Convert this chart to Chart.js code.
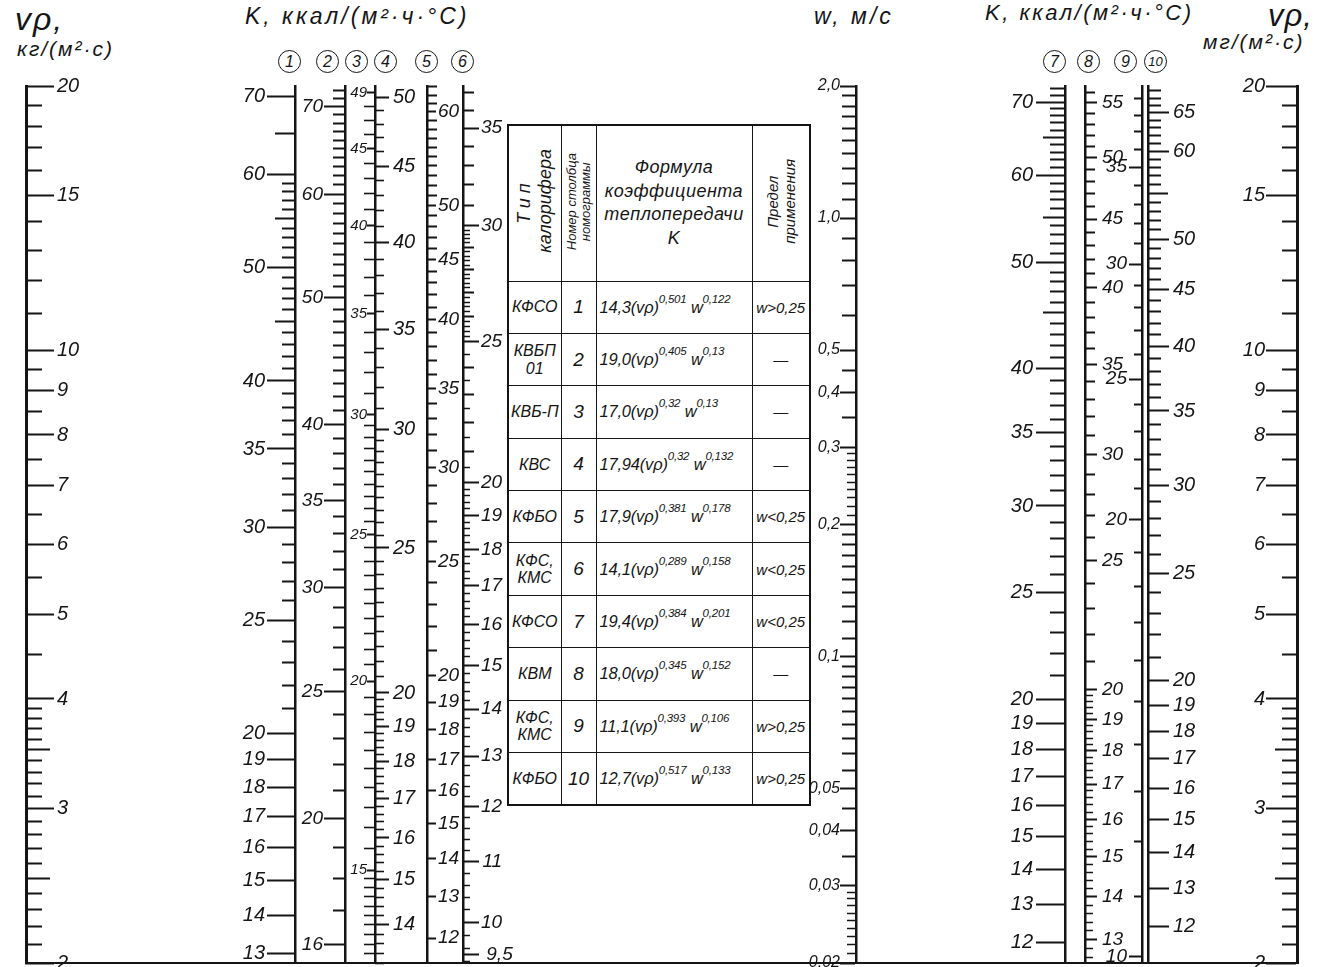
<!DOCTYPE html>
<html lang="ru">
<head>
<meta charset="utf-8">
<title>Номограмма коэффициента теплопередачи калориферов</title>
<script src="https://cdn.jsdelivr.net/npm/chart.js@4.4.1/dist/chart.umd.min.js"></script>
<style>
  html, body { margin: 0; padding: 0; background: #fff; }
  #sheet {
    position: relative; width: 1326px; height: 967px; overflow: hidden;
    font-family: 'Liberation Sans', Arial, sans-serif;
    font-style: italic; color: #151515;
  }
  #chartBox { position: absolute; left: 0; top: 0; width: 1326px; height: 967px; z-index: 2; pointer-events: none; }
  .hd { position: absolute; white-space: nowrap; line-height: 1; }
  .num {
    position: absolute; top: 50px; width: 21px; height: 21px; margin-left: -12px;
    border: 1.5px solid #151515; border-radius: 50%; text-align: center;
    line-height: 21px; font-size: 16px;
  }
  #tbl {
    position: absolute; left: 507px; top: 124px; width: 302px; height: 682px;
    border-collapse: collapse; table-layout: fixed; z-index: 1;
    border: 2px solid #151515;
  }
  #tbl th, #tbl td {
    border: 1.5px solid #151515; padding: 0; text-align: center; vertical-align: middle;
    font-weight: normal; font-style: italic;
  }
  #tbl thead tr { height: 156px; }
  #tbl tbody tr { height: 52px; }
  .rot { writing-mode: vertical-rl; transform: rotate(180deg); display: inline-block; line-height: 1.15; text-align: center; }
  .h1 { font-size: 18px; }
  .h2 { font-size: 13px; line-height: 1.05 !important; }
  .h4 { font-size: 15px; }
  .h3 { font-size: 18px; line-height: 1.3; letter-spacing: 0.5px; }
  .type { font-size: 16px; line-height: 1.1; }
  .no { font-size: 19px; }
  .frm { font-size: 16.5px; text-align: left !important; padding-left: 3px !important; white-space: nowrap; letter-spacing: -0.2px; }
  .frm sup { font-size: 11.5px; position: relative; top: -4px; vertical-align: top; line-height: 1; }
  .lim { font-size: 15px; white-space: nowrap; }
</style>
</head>
<body>
<div id="sheet">
  <div id="chartBox"><canvas id="nomo"></canvas></div>

  <div class="hd" style="left:15px;top:3px;font-size:32px;letter-spacing:2px">vρ,</div>
  <div class="hd" style="left:17px;top:38px;font-size:21px;letter-spacing:2px">кг/(м²·с)</div>
  <div class="hd" style="left:245px;top:5px;font-size:23px;letter-spacing:3px">K, ккал/(м²·ч·°С)</div>
  <div class="hd" style="left:814px;top:5px;font-size:23px;letter-spacing:3px">w, м/с</div>
  <div class="hd" style="left:985px;top:2px;font-size:22px;letter-spacing:2.5px">K, ккал/(м²·ч·°С)</div>
  <div class="hd" style="left:1268px;top:0px;font-size:31px;letter-spacing:1px">vρ,</div>
  <div class="hd" style="left:1203px;top:31px;font-size:21px;letter-spacing:2px">мг/(м²·с)</div>

  <div class="num" style="left:290px">1</div>
  <div class="num" style="left:328px">2</div>
  <div class="num" style="left:357px">3</div>
  <div class="num" style="left:386px">4</div>
  <div class="num" style="left:427px">5</div>
  <div class="num" style="left:463px">6</div>
  <div class="num" style="left:1055px">7</div>
  <div class="num" style="left:1089px">8</div>
  <div class="num" style="left:1126px">9</div>
  <div class="num" style="left:1156px;font-size:13px">10</div>

  <table id="tbl">
    <colgroup><col style="width:53px"><col style="width:35px"><col style="width:156px"><col style="width:58px"></colgroup>
    <thead>
      <tr>
        <th><span class="rot h1"><span style="letter-spacing:5px">Тип</span><br>калорифера</span></th>
        <th><span class="rot h2">Номер столбца<br>номограммы</span></th>
        <th class="h3">Формула<br>коэффициента<br>теплопередачи<br>K</th>
        <th><span class="rot h4">Предел<br>применения</span></th>
      </tr>
    </thead>
    <tbody id="rows"></tbody>
  </table>
</div>

<script>
const FONT = "'Liberation Sans', Arial, sans-serif";
const INK = '#151515';

// vp scales, kg and mg sides share the graduation
const VP_MAJOR = [20, 15, 10, 9, 8, 7, 6, 5, 4, 3, 2];
const VP_MID = [3.5, 2.5];
const VP_MINOR = [[15, 20, 1], [10, 15, 1], [4, 10, 0.5], [2, 4, 0.1]];

// K columns 1-6
const K1_MAJOR = [70, 60, 50, 40, 35, 30, 25, 20, 19, 18, 17, 16, 15, 14, 13];
const K1_MID = [65, 55, 45];
const K1_MINOR = [[20, 60, 1]];

const K2_MAJOR = [70, 60, 50, 40, 35, 30, 25, 20, 16];
const K2_MINOR = [[15, 72, 1]];

const K3_MAJOR = [49, 45, 40, 35, 30, 25, 20, 15, 13];
const K3_MINOR = [[30, 49, 1], [15, 30, 0.5], [13, 15, 0.2]];

const K4_MAJOR = [50, 45, 40, 35, 30, 25, 20, 19, 18, 17, 16, 15, 14];
const K4_MINOR = [[30, 50, 1], [20, 30, 0.5], [13.2, 20, 0.2]];

const K5_MAJOR = [60, 50, 45, 40, 35, 30, 25, 20, 19, 18, 17, 16, 15, 14, 13, 12];
const K5_MINOR = [[20, 63, 1]];

const K6_MAJOR = [35, 30, 25, 20, 19, 18, 17, 16, 15, 14, 13, 12, 11, 10, 9.5];
const K6_MID = [[20, 37, 1]];
const K6_MINOR = [[25, 30, 0.2], [20, 25, 0.5], [9.4, 20, 0.2]];

// air velocity w, m/s
const W_MAJOR = [2, 1, 0.5, 0.4, 0.3, 0.2, 0.1, 0.05, 0.04, 0.03, 0.02];
const W_LABELS = ['2,0', '1,0', '0,5', '0,4', '0,3', '0,2', '0,1', '0,05', '0,04', '0,03', '0,02'];
const W_MINOR = [[1, 2, 0.1], [0.5, 1, 0.1], [0.3, 0.5, 0.05], [0.1, 0.2, 0.01], [0.05, 0.1, 0.005], [0.03, 0.05, 0.005]];
const W_FINE = [[0.2, 0.3, 0.01], [0.02, 0.03, 0.001]];

// K columns 7-10
const K7_MAJOR = [70, 60, 50, 40, 35, 30, 25, 20, 19, 18, 17, 16, 15, 14, 13, 12];
const K7_MID = [65, 55, 45];
const K7_MINOR = [[20, 72, 1]];

const K8_MAJOR = [55, 50, 45, 40, 35, 30, 25, 20, 19, 18, 17, 16, 15, 14, 13];
const K8_MINOR = [[20, 56, 1]];
const K8_FINE = [[12.4, 20, 0.2]];

const K9_MAJOR = [35, 30, 25, 20, 10];
const K9_MINOR = [[10, 39, 1]];

const K10_MAJOR = [65, 60, 50, 45, 40, 35, 30, 25, 20, 19, 18, 17, 16, 15, 14, 13, 12];
const K10_MID = [55];
const K10_MINOR = [[20, 68, 1]];

// table
const HEATER_TYPES = ['КФСО', 'КВБП\n01', 'КВБ-П', 'КВС', 'КФБО', 'КФС,\nКМС', 'КФСО', 'КВМ', 'КФС,\nКМС', 'КФБО'];
const COLUMN_NO = [1, 2, 3, 4, 5, 6, 7, 8, 9, 10];
const COEF_A = ['14,3', '19,0', '17,0', '17,94', '17,9', '14,1', '19,4', '18,0', '11,1', '12,7'];
const EXP_VP = ['0,501', '0,405', '0,32', '0,32', '0,381', '0,289', '0,384', '0,345', '0,393', '0,517'];
const EXP_W = ['0,122', '0,13', '0,13', '0,132', '0,178', '0,158', '0,201', '0,152', '0,106', '0,133'];
const W_LIMIT = ['w>0,25', '—', '—', '—', 'w<0,25', 'w<0,25', 'w<0,25', '—', 'w>0,25', 'w>0,25'];

// where each graduated line sits on the sheet
const AXES = [
  { id: 'vpKg', x: 26, side: 'right', min: 2, max: 20, major: VP_MAJOR, len: 29, gap: 2, size: 20, line: 3,
    tiers: [{ vals: VP_MID, len: 24 }, { segs: VP_MINOR, len: 16 }] },
  { id: 'k1', x: 295, side: 'left', min: 12.75, max: 71.4, major: K1_MAJOR, len: 27, gap: 3, size: 20, line: 2.5,
    tiers: [{ vals: K1_MID, len: 20 }, { segs: K1_MINOR, len: 13 }] },
  { id: 'k2', x: 345, side: 'left', min: 15.5, max: 72.6, major: K2_MAJOR, len: 20, gap: 2, size: 19, line: 2.5,
    tiers: [{ segs: K2_MINOR, len: 12 }] },
  { id: 'k3', x: 375, side: 'left', min: 13.02, max: 49.5, major: K3_MAJOR, len: 7, gap: 1, size: 15, line: 2.5,
    tiers: [{ segs: K3_MINOR, len: 11, w: 1.6 }] },
  { id: 'k4', x: 375, side: 'right', min: 13.2, max: 50.9, major: K4_MAJOR, len: 14, gap: 4, size: 20, line: 0,
    tiers: [{ segs: K4_MINOR, len: 9, w: 1.6 }] },
  { id: 'k5', x: 427, side: 'right', min: 11.43, max: 63.1, major: K5_MAJOR, len: 10, gap: 1, size: 19, line: 2.5,
    tiers: [{ segs: K5_MINOR, len: 10 }] },
  { id: 'k6', x: 463, side: 'right', min: 9.38, max: 37.4, major: K6_MAJOR, len: 17, gap: 1, size: 19, line: 2.5,
    tiers: [{ segs: K6_MID, len: 11 }, { segs: K6_MINOR, len: 7, w: 1.5 }] },
  { id: 'w', x: 856, side: 'left', min: 0.02, max: 2, major: W_MAJOR, labels: W_LABELS, len: 15, gap: 1, size: 16, line: 2.5,
    tiers: [{ segs: W_MINOR, len: 14 }, { segs: W_FINE, len: 9, w: 1.5 }] },
  { id: 'k7', x: 1065, side: 'left', min: 11.5, max: 72.4, major: K7_MAJOR, len: 28, gap: 4, size: 20, line: 2.5,
    tiers: [{ vals: K7_MID, len: 22 }, { segs: K7_MINOR, len: 15 }] },
  { id: 'k8', x: 1085, side: 'right', min: 12.49, max: 56.6, major: K8_MAJOR, len: 13, gap: 4, size: 19, line: 2.5,
    tiers: [{ segs: K8_MINOR, len: 10 }, { segs: K8_FINE, len: 8, w: 1.5 }] },
  { id: 'k9', x: 1142, side: 'left', min: 9.9, max: 39.8, major: K9_MAJOR, len: 12, gap: 3, size: 19, line: 2.5,
    tiers: [{ segs: K9_MINOR, len: 8 }] },
  { id: 'k10', x: 1148, side: 'right', min: 11.13, max: 68.7, major: K10_MAJOR, len: 22, gap: 3, size: 20, line: 2.5,
    tiers: [{ vals: K10_MID, len: 20 }, { segs: K10_MINOR, len: 13 }] },
  { id: 'vpMg', x: 1297, side: 'left', min: 2, max: 20, major: VP_MAJOR, len: 30, gap: 2, size: 20, line: 3,
    tiers: [{ vals: VP_MID, len: 22 }, { segs: VP_MINOR, len: 15 }] }
];

const measure = document.createElement('canvas').getContext('2d');
const key = v => v.toFixed(6);

// expand [from, to, step] runs into tick values, skipping ones already used
function graduate(segments, taken) {
  const used = new Set(taken.map(key));
  const out = [];
  segments.forEach(([from, to, step]) => {
    const n = Math.round((to - from) / step);
    for (let i = 0; i <= n; i++) {
      const v = Math.round((from + i * step) * 1e6) / 1e6;
      if (!used.has(key(v))) {
        used.add(key(v));
        out.push(v);
      }
    }
  });
  return out;
}

const inRange = (values, s) => values.filter(v => v >= s.min * 0.9995 && v <= s.max * 1.0005);
const noPadding = scale => {
  scale.paddingTop = 0; scale.paddingBottom = 0; scale.paddingLeft = 0; scale.paddingRight = 0;
};

function tickLayer(s, values, len, width, border) {
  const keep = inRange(values, s);
  return {
    type: 'logarithmic', axis: 'y', position: { x: s.x }, min: s.min, max: s.max, bounds: 'data',
    border: { display: border, width: s.line || 1, color: INK },
    grid: {
      display: true, drawOnChartArea: false, drawTicks: true,
      tickLength: s.side === 'left' ? len : -len, tickWidth: width, tickColor: INK
    },
    ticks: { display: false, autoSkip: false },
    afterBuildTicks: scale => { scale.ticks = keep.map(v => ({ value: v })); },
    afterFit: noPadding
  };
}

function labelLayer(s) {
  const raw = s.major.map((v, i) => (s.labels ? s.labels[i] : String(v).replace('.', ',')));
  let texts = raw;
  let x = s.x - s.len - s.gap;
  if (s.side === 'right') {
    // right-aligned text, so pad short labels with figure spaces to start them at one edge
    const n = Math.max(...raw.map(t => t.length));
    texts = raw.map(t => t + '\u2007'.repeat(n - t.length));
    measure.font = `italic ${s.size}px ${FONT}`;
    x = s.x + s.len + s.gap + Math.max(...texts.map(t => measure.measureText(t).width));
  }
  const byValue = new Map(s.major.map((v, i) => [key(v), texts[i]]));
  const keep = inRange(s.major, s);
  return {
    type: 'logarithmic', axis: 'y', position: { x }, min: s.min, max: s.max, bounds: 'data',
    border: { display: false },
    grid: { display: false, drawTicks: false },
    ticks: {
      display: true, autoSkip: false, padding: 0, color: INK,
      font: { family: FONT, size: s.size, style: 'italic' },
      callback: v => byValue.get(key(v)) || ''
    },
    afterBuildTicks: scale => { scale.ticks = keep.map(v => ({ value: v })); },
    afterFit: noPadding
  };
}

const scales = {
  x: {
    type: 'linear', min: 26, max: 1297, position: 'bottom',
    grid: { display: false, drawTicks: false },
    ticks: { display: false },
    border: { display: true, width: 2, color: INK }
  }
};

AXES.forEach(s => {
  scales[s.id + '_major'] = tickLayer(s, s.major, s.len, 2, s.line > 0);
  const taken = [...s.major];
  s.tiers.forEach((t, i) => {
    const vals = t.vals ? t.vals : graduate(t.segs, taken);
    taken.push(...vals);
    scales[s.id + '_t' + i] = tickLayer(s, vals, t.len, t.w || 2, false);
  });
  scales[s.id + '_lab'] = labelLayer(s);
});

new Chart(document.getElementById('nomo'), {
  type: 'line',
  data: { datasets: [] },
  options: {
    responsive: true,
    maintainAspectRatio: false,
    animation: false,
    events: [],
    layout: { padding: { left: 26, right: 29, top: 86, bottom: 4 } },
    plugins: { legend: { display: false }, tooltip: { enabled: false } },
    scales
  }
});

// table rows
const tbody = document.getElementById('rows');
HEATER_TYPES.forEach((type, i) => {
  const tr = document.createElement('tr');

  const tdType = document.createElement('td');
  tdType.className = 'type';
  type.split('\n').forEach((part, j) => {
    if (j) tdType.appendChild(document.createElement('br'));
    tdType.appendChild(document.createTextNode(part));
  });

  const tdNo = document.createElement('td');
  tdNo.className = 'no';
  tdNo.textContent = COLUMN_NO[i];

  const tdF = document.createElement('td');
  tdF.className = 'frm';
  const supVp = document.createElement('sup');
  supVp.textContent = EXP_VP[i];
  const supW = document.createElement('sup');
  supW.textContent = EXP_W[i];
  tdF.append(COEF_A[i] + '(vρ)', supVp, ' w', supW);

  const tdL = document.createElement('td');
  tdL.className = 'lim';
  tdL.textContent = W_LIMIT[i];

  tr.append(tdType, tdNo, tdF, tdL);
  tbody.appendChild(tr);
});
</script>
</body>
</html>
